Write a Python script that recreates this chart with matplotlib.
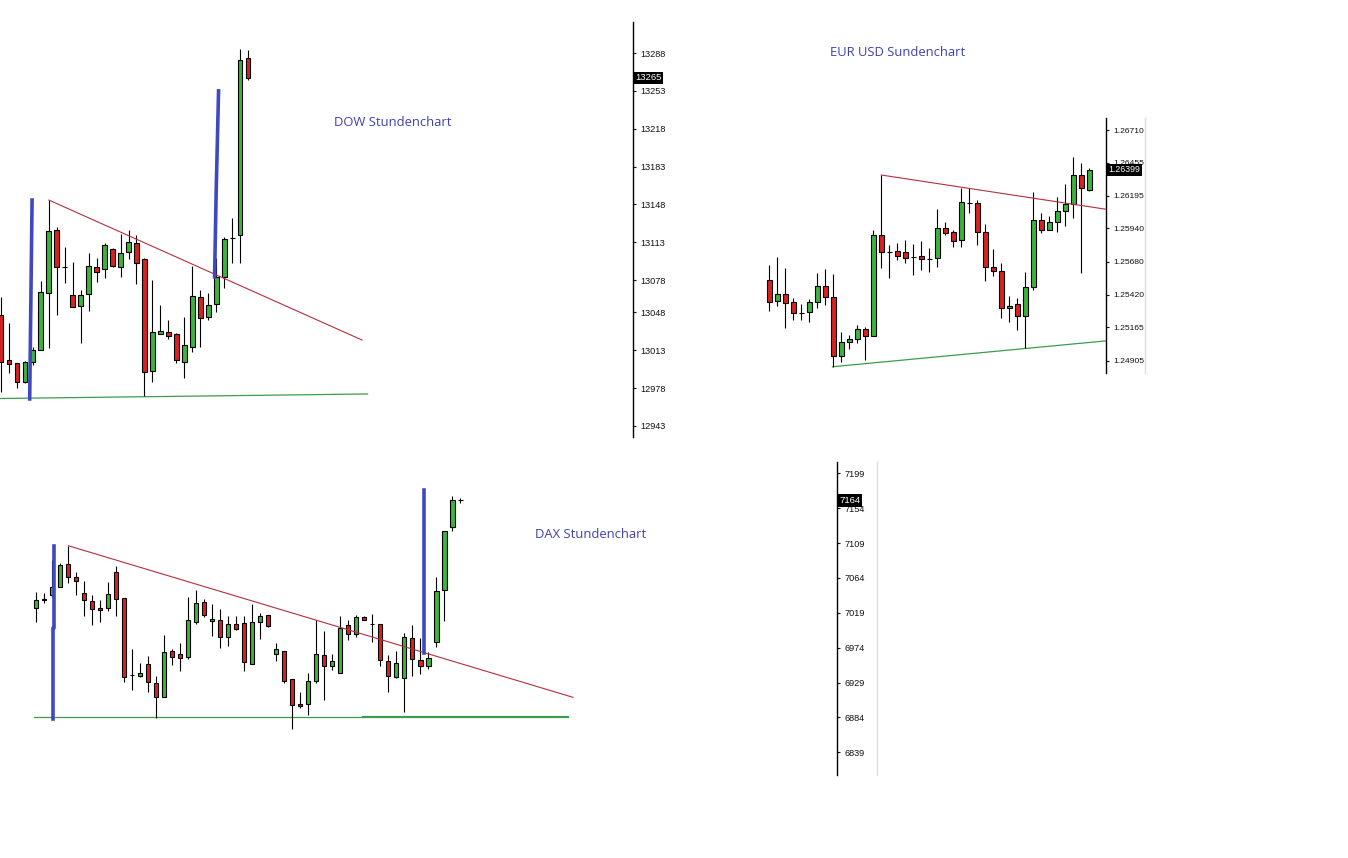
import numpy as np
import matplotlib.pyplot as plt
from matplotlib.lines import Line2D

W, H = 1348, 858

# DOW hourly candles
dow_open = [13046, 13004, 13001, 12984, 13002, 13013, 13066, 13124, 13090, 13064, 13054, 13065, 13090, 13088, 13107, 13090,
            13104, 13112, 13097, 12994, 13028, 13030, 13028, 13002, 13016, 13062, 13044, 13056, 13081, 13117, 13120, 13283]
dow_high = [13062, 13038, 13001, 13003, 13016, 13077, 13152, 13127, 13109, 13095, 13069, 13103, 13098, 13112, 13108, 13121,
            13124, 13120, 13098, 13078, 13055, 13041, 13029, 13044, 13091, 13069, 13066, 13098, 13118, 13135, 13292, 13291]
dow_low = [12974, 12992, 12978, 12983, 12999, 13013, 13015, 13046, 13075, 13053, 13020, 13049, 13076, 13080, 13090, 13081,
           13097, 13074, 12971, 12984, 13028, 13023, 13001, 12987, 13011, 13016, 13041, 13048, 13071, 13094, 13094, 13263]
dow_close = [13002, 13000, 12984, 13002, 13013, 13067, 13123, 13090, 13090, 13053, 13064, 13091, 13085, 13110, 13091, 13103,
             13113, 13094, 12993, 13030, 13031, 13026, 13004, 13018, 13063, 13043, 13055, 13081, 13116, 13117, 13282, 13265]
dow_ticks = [13288, 13253, 13218, 13183, 13148, 13113, 13078, 13048, 13013, 12978, 12943]
dow_last = 13265
dow_res_x, dow_res_y = [6, 45.3], [13152, 13022.5]
dow_sup_x, dow_sup_y = [-0.2, 46], [12968.4, 12972.6]
dow_mark1_x, dow_mark1_y = [3.9, 3.75, 3.6], [13152, 13060, 12968]
dow_mark2_x, dow_mark2_y = [27.3, 27.0, 26.8], [13253, 13160, 13081]

# EUR/USD hourly candles
eur_open = [1.25536, 1.25374, 1.25425, 1.25362, 1.25281, 1.25284, 1.25362, 1.25490, 1.25403, 1.24944, 1.25054,
            1.25072, 1.25151, 1.25101, 1.25888, 1.25758, 1.25763, 1.25753, 1.25719, 1.25724, 1.25703, 1.25706,
            1.25941, 1.25910, 1.25849, 1.26141, 1.26137, 1.25910, 1.25636, 1.25609, 1.25315, 1.25346, 1.25255,
            1.25479, 1.26006, 1.25928, 1.25988, 1.26076, 1.26131, 1.26358, 1.26241]
eur_high = [1.25654, 1.25719, 1.25628, 1.25393, 1.25349, 1.25385, 1.25589, 1.25620, 1.25581, 1.25132, 1.25106,
            1.25184, 1.25171, 1.25928, 1.26358, 1.25810, 1.25824, 1.25849, 1.25818, 1.25844, 1.25784, 1.26090,
            1.25993, 1.25928, 1.26254, 1.26254, 1.26162, 1.25975, 1.25777, 1.25667, 1.25411, 1.25398, 1.25601,
            1.26227, 1.26058, 1.26037, 1.26183, 1.26288, 1.26501, 1.26454, 1.26410]
eur_low = [1.25294, 1.25333, 1.25163, 1.25223, 1.25223, 1.25210, 1.25320, 1.25341, 1.24858, 1.24897, 1.24994,
           1.25041, 1.24910, 1.25101, 1.25628, 1.25554, 1.25693, 1.25667, 1.25576, 1.25615, 1.25601, 1.25640,
           1.25888, 1.25797, 1.25792, 1.26058, 1.25810, 1.25531, 1.25570, 1.25237, 1.25205, 1.25145, 1.25002,
           1.25458, 1.25907, 1.25928, 1.25910, 1.25961, 1.26019, 1.25594, 1.26233]
eur_close = [1.25367, 1.25425, 1.25354, 1.25276, 1.25281, 1.25362, 1.25490, 1.25401, 1.24944, 1.25054, 1.25075,
             1.25151, 1.25101, 1.25888, 1.25758, 1.25758, 1.25724, 1.25711, 1.25719, 1.25698, 1.25703, 1.25941,
             1.25907, 1.25844, 1.26144, 1.26141, 1.25910, 1.25636, 1.25609, 1.25315, 1.25335, 1.25255, 1.25479,
             1.26006, 1.25928, 1.25988, 1.26076, 1.26131, 1.26358, 1.26254, 1.26399]
eur_ticks = [1.26710, 1.26455, 1.26195, 1.25940, 1.25680, 1.25420, 1.25165, 1.24905]
eur_last = 1.26399
eur_res_x, eur_res_y = [14, 42.2], [1.26358, 1.26089]
eur_sup_x, eur_sup_y = [7.9, 42.2], [1.24858, 1.25061]

# DAX hourly candles
dax_open = [7025, 7035, 7042, 7052, 7082, 7065, 7045, 7034, 7025, 7025, 7072, 7038, 6939, 6937, 6953, 6929, 6910, 6970,
            6966, 6962, 7007, 7033, 7008, 7010, 6988, 7005, 7006, 6953, 7007, 7016, 6966, 6970, 6933, 6902, 6902, 6931,
            6965, 6950, 6941, 7003, 6992, 7013, 7004, 7004, 6957, 6936, 6935, 6986, 6958, 6951, 6981, 7048, 7130, 7164]
dax_high = [7046, 7045, 7087, 7083, 7105, 7072, 7060, 7042, 7035, 7059, 7080, 7038, 6972, 6954, 6963, 6937, 6990, 6972,
            6980, 7040, 7049, 7037, 7030, 7024, 7015, 7015, 7015, 7030, 7019, 7016, 6980, 6970, 6934, 6917, 6941, 7010,
            6995, 6966, 7015, 7010, 7016, 7015, 7017, 7004, 6964, 6970, 6993, 7003, 6986, 6968, 7065, 7124, 7170, 7167]
dax_low = [7007, 7032, 7040, 7052, 7058, 7042, 7015, 7003, 7007, 7021, 7015, 6930, 6920, 6936, 6917, 6883, 6910, 6952,
           6944, 6960, 7005, 7014, 6989, 6973, 6976, 6997, 6944, 6953, 6985, 7001, 6957, 6929, 6869, 6896, 6887, 6928,
           6907, 6945, 6941, 6984, 6988, 7010, 6981, 6950, 6917, 6935, 6891, 6938, 6940, 6947, 6975, 7008, 7124, 7160]
dax_close = [7036, 7037, 7052, 7081, 7065, 7060, 7035, 7024, 7023, 7043, 7037, 6936, 6939, 6942, 6930, 6910, 6969, 6962,
             6961, 7010, 7032, 7016, 7011, 6988, 7004, 6998, 6955, 7007, 7015, 7002, 6972, 6931, 6900, 6899, 6931, 6966,
             6950, 6957, 6999, 6992, 7014, 7010, 7004, 6958, 6937, 6954, 6988, 6960, 6950, 6961, 7047, 7124, 7164, 7164]
dax_ticks = [7199, 7154, 7109, 7064, 7019, 6974, 6929, 6884, 6839]
dax_last = 7164
dax_res_x, dax_res_y = [4.04, 67.1], [7105.5, 6910]
dax_sup_x, dax_sup_y = [-0.25, 40.9], [6884, 6884]
dax_sup2_x, dax_sup2_y = [40.9, 66.5], [6884.8, 6884.8]
dax_mark1_x, dax_mark1_y = [2.3, 2.3, 2.15, 2.15], [7105.5, 7000, 7000, 6882]
dax_mark2_x, dax_mark2_y = [48.54, 48.54], [7177.5, 6967.5]

GREEN = '#3cb43c'
RED = '#dc2020'
TREND_RED = '#b3303c'
TREND_GREEN = '#3c9c50'
MARK_BLUE = '#4048c0'
TITLE_BLUE = '#4040b0'

plt.rcParams['font.family'] = ['Liberation Sans', 'DejaVu Sans']
fig = plt.figure(figsize=(W / 100, H / 100), dpi=100)
fig.patch.set_facecolor('white')


def px_axes(left, top, right, bottom):
    ax = fig.add_axes([left / W, 1 - bottom / H, (right - left) / W, (bottom - top) / H])
    ax.set_facecolor('none')
    return ax


def draw_candles(ax, o, h, l, c):
    o, h, l, c = map(np.asarray, (o, h, l, c))
    x = np.arange(len(o))
    ax.vlines(x, l, h, color='black', lw=0.8, zorder=2)
    colors = np.where(c > o, GREEN, RED)
    ax.bar(x, np.abs(c - o), bottom=np.minimum(o, c), width=0.6, color=colors,
           edgecolor='black', linewidth=0.8, zorder=3)


def style_axis(ax, ticks, fmt, last, size=6.6):
    for s in ['left', 'top', 'bottom']:
        ax.spines[s].set_visible(False)
    ax.spines['right'].set_linewidth(1.0)
    ax.yaxis.tick_right()
    ax.set_yticks(ticks)
    ax.set_yticklabels([fmt.format(t) for t in ticks])
    ax.tick_params(axis='y', direction='out', length=2.5, width=0.8, pad=3, labelsize=size, colors='#111111')
    ax.set_xticks([])
    ax.annotate(fmt.format(last), xy=(1, last), xycoords=('axes fraction', 'data'),
                xytext=(1.5, 0), textcoords='offset points', ha='left', va='center',
                color='white', fontsize=size + 0.2, zorder=10,
                bbox=dict(boxstyle='square,pad=0.18', fc='black', ec='none'))


def gray_border(x, top, bottom):
    fig.add_artist(Line2D([x / W, x / W], [1 - top / H, 1 - bottom / H],
                          transform=fig.transFigure, color='#dddddd', lw=1))


# DOW
ax1 = px_axes(0, 22, 633, 437)
ax1.set_xlim(-0.125, 79.3)
ax1.set_ylim(12932.8, 13316.7)
ax1.plot(dow_sup_x, dow_sup_y, color=TREND_GREEN, lw=0.9, zorder=1)
ax1.plot(dow_res_x, dow_res_y, color=TREND_RED, lw=0.8, zorder=4)
draw_candles(ax1, dow_open, dow_high, dow_low, dow_close)
ax1.plot(dow_mark1_x, dow_mark1_y, color=MARK_BLUE, lw=2.6, zorder=5)
ax1.plot(dow_mark2_x, dow_mark2_y, color=MARK_BLUE, lw=2.6, zorder=5)
style_axis(ax1, dow_ticks, '{:.0f}', dow_last)

# EUR/USD
ax2 = px_axes(740, 118, 1106, 373)
ax2.set_xlim(-3.66, 42.09)
ax2.set_ylim(1.24809, 1.26804)
ax2.plot(eur_sup_x, eur_sup_y, color=TREND_GREEN, lw=0.9, zorder=1)
ax2.plot(eur_res_x, eur_res_y, color=TREND_RED, lw=0.8, zorder=4)
draw_candles(ax2, eur_open, eur_high, eur_low, eur_close)
style_axis(ax2, eur_ticks, '{:.5f}', eur_last, size=6.1)
gray_border(1145, 118, 373)

# DAX
ax3 = px_axes(0, 462, 837, 775)
ax3.set_xlim(-4.5, 100.1)
ax3.set_ylim(6809.8, 7213.5)
ax3.plot(dax_sup_x, dax_sup_y, color=TREND_GREEN, lw=0.9, zorder=1)
ax3.plot(dax_sup2_x, dax_sup2_y, color=TREND_GREEN, lw=1.6, zorder=1)
ax3.plot(dax_res_x, dax_res_y, color=TREND_RED, lw=0.8, zorder=4)
draw_candles(ax3, dax_open, dax_high, dax_low, dax_close)
ax3.plot(dax_mark1_x, dax_mark1_y, color=MARK_BLUE, lw=2.6, zorder=5)
ax3.plot(dax_mark2_x, dax_mark2_y, color=MARK_BLUE, lw=2.6, zorder=5)
style_axis(ax3, dax_ticks, '{:.0f}', dax_last)
gray_border(877, 462, 775)

# chart titles
for label, x, y in [('DOW Stundenchart', 334, 122), ('EUR USD Sundenchart', 830, 53),
                    ('DAX Stundenchart', 535, 534)]:
    fig.text(x / W, 1 - y / H, label, color=TITLE_BLUE, fontsize=9.4, family='Open Sans',
             ha='left', va='center')

fig.savefig('out.png', dpi=100, facecolor='white')
